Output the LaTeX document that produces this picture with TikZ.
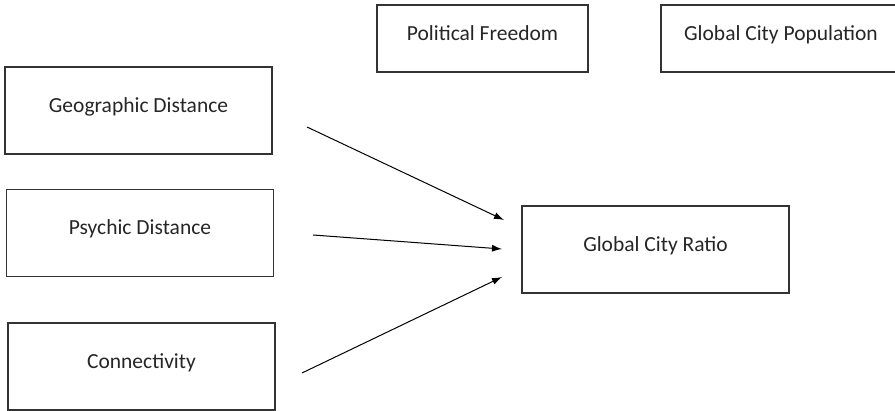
\documentclass[tikz,border=0pt]{standalone}
\usepackage{fontspec}
\setmainfont{Carlito}
\usetikzlibrary{arrows.meta}

\begin{document}
\begin{tikzpicture}[x=1pt,y=1pt,>={Latex[length=10pt,width=7pt]},
    box/.style={rectangle,draw=black!80,line width=1.1pt,font=\fontsize{21.5}{26}\selectfont,text=black!85,text height=15pt,text depth=11pt},
    wide/.style={box,minimum width=267pt,minimum height=87pt},
    small/.style={box,minimum height=67pt}]

            \useasboundingbox (0,0) rectangle (895,411);
            \clip (0,0) rectangle (895,411);

            \node[wide] (geo) at (138.5,300.5) {Geographic Distance};
            \node[wide] (psy) at (140,178) {Psychic Distance};
            \node[wide] (con) at (141.5,44.5) {Connectivity};
            \node[wide] (ratio) at (655.5,161.5) {Global City Ratio};
            \node[small, minimum width=211pt] (pol) at (482.5,372.5) {Political Freedom};
            \node[small, minimum width=240pt] (pop) at (781,372.5) {Global City Population};

            % free arrow ends
            \coordinate (geo out) at (307,284);
            \coordinate (psy out) at (313,176);
            \coordinate (con out) at (302,38);
            \coordinate (ratio in1) at (504,191);
            \coordinate (ratio in2) at (502,162);
            \coordinate (ratio in3) at (502,134);

            \draw[->, line width=1pt] (geo out) to (ratio in1);
            \draw[->, line width=1pt] (psy out) to (ratio in2);
            \draw[->, line width=1pt] (con out) to (ratio in3);

        \end{tikzpicture}
\end{document}
